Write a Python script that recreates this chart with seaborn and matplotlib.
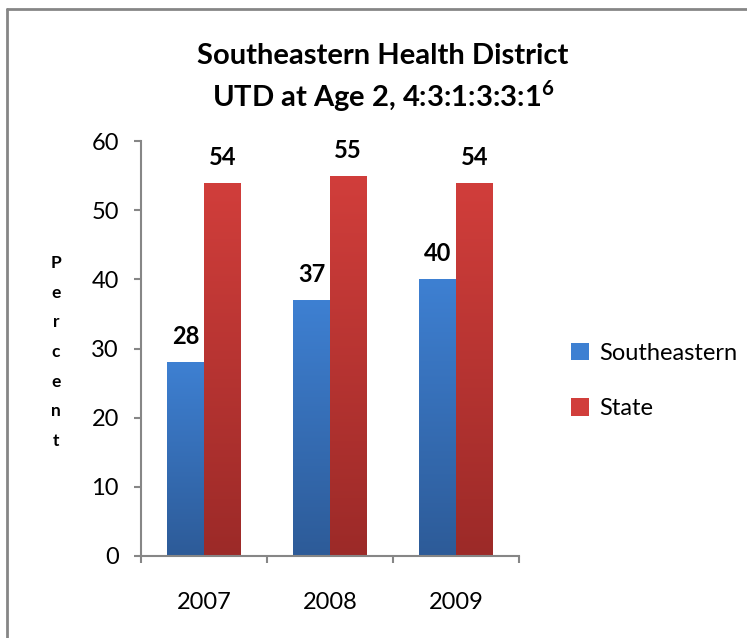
import numpy as np
import pandas as pd
import matplotlib
matplotlib.use("Agg")
import matplotlib.pyplot as plt
from matplotlib.colors import LinearSegmentedColormap
from matplotlib.lines import Line2D
from matplotlib.patches import Patch
import seaborn as sns

years = ["2007", "2008", "2009"]
southeastern = [28, 37, 40]
state = [54, 55, 54]
series_names = ["Southeastern", "State"]
yticks = [0, 10, 20, 30, 40, 50, 60]

df = pd.DataFrame({
    "Year": years * 2,
    "Percent": southeastern + state,
    "Series": [series_names[0]] * 3 + [series_names[1]] * 3,
})

sns.set_theme(style="white")
FONT = "Lato"
plt.rcParams["font.family"] = [FONT, "DejaVu Sans"]
plt.rcParams["mathtext.fontset"] = "custom"
plt.rcParams["mathtext.rm"] = FONT
plt.rcParams["mathtext.bf"] = FONT + ":bold"
plt.rcParams["text.color"] = "black"
plt.rcParams["xtick.color"] = "black"
plt.rcParams["ytick.color"] = "black"

fig = plt.figure(figsize=(7.47, 6.38), dpi=100)
fig.patch.set_facecolor("white")
ax = fig.add_axes([141 / 747, 1 - 556 / 638, 378 / 747, 415 / 638])

blue_top, blue_bot = "#3E80D2", "#2D5B98"
red_top, red_bot = "#D13E3B", "#9C2A28"
palette = {series_names[0]: blue_top, series_names[1]: red_top}

sns.barplot(data=df, x="Year", y="Percent", hue="Series", palette=palette,
            width=0.58, ax=ax, legend=False, saturation=1)

ax.set_xlim(-0.5, 2.5)
ax.set_ylim(0, 60)

grads = [(blue_top, blue_bot), (red_top, red_bot)]
for cont, (ct, cb) in zip(ax.containers, grads):
    cmap = LinearSegmentedColormap.from_list("g", [cb, ct])
    for p in cont:
        x, y0 = p.get_x(), p.get_y()
        w, h = p.get_width(), p.get_height()
        grad = np.linspace(1, 0, 256).reshape(-1, 1)
        im = ax.imshow(grad, extent=[x, x + w, y0, y0 + h], aspect="auto",
                       cmap=cmap, origin="upper", zorder=p.get_zorder() + 0.1)
        im.set_clip_path(p)
    ax.bar_label(cont, padding=10, fontsize=17, fontweight="bold", color="black",
                 zorder=5)

ax.set_xlim(-0.5, 2.5)
ax.set_ylim(0, 60)
ax.set_aspect("auto")

spine_c = "#868686"
for s in ["top", "right"]:
    ax.spines[s].set_visible(False)
for s in ["left", "bottom"]:
    ax.spines[s].set_color(spine_c)
    ax.spines[s].set_linewidth(1.5)

ax.set_yticks(yticks)
ax.tick_params(axis="y", which="major", direction="out", length=5, width=1.5,
               color=spine_c, labelsize=17, labelcolor="black", pad=11, left=True)
ax.set_xticks([-0.5, 0.5, 1.5, 2.5])
ax.set_xticklabels([])
ax.set_xticks([0, 1, 2], minor=True)
ax.set_xticklabels(years, minor=True)
ax.tick_params(axis="x", which="major", direction="out", length=5, width=1.5,
               color=spine_c, bottom=True)
ax.tick_params(axis="x", which="minor", length=0, labelsize=17,
               labelcolor="black", pad=26)
ax.set_xlabel("")
ax.set_ylabel("")

fig.text(56 / 747, 1 - 352 / 638, "P\ne\nr\nc\ne\nn\nt", ha="center", va="center",
         fontsize=12.5, fontweight="bold", linespacing=2.05)

fig.text(383 / 747, 1 - 56 / 638, "Southeastern Health District", ha="center",
         va="center", fontsize=21, fontweight="bold")
fig.text(383 / 747, 1 - 96 / 638, r"UTD at Age 2, 4:3:1:3:3:1$^{\mathbf{6}}$",
         ha="center", va="center", fontsize=21, fontweight="bold")

handles = [Patch(facecolor=blue_top, edgecolor="none"),
           Patch(facecolor=red_top, edgecolor="none")]
fig.legend(handles, series_names, loc="center left",
           bbox_to_anchor=(550 / 747, 1 - 381 / 638), frameon=False,
           fontsize=17, handlelength=0.75, handleheight=0.75,
           handletextpad=0.45, labelspacing=1.45)

fig.add_artist(Line2D([7 / 747, 7 / 747], [0, 1 - 9 / 638], color=spine_c, lw=2))
fig.add_artist(Line2D([7 / 747, 1], [1 - 9 / 638, 1 - 9 / 638], color=spine_c, lw=2))

fig.savefig("out.png", dpi=100, facecolor="white")
